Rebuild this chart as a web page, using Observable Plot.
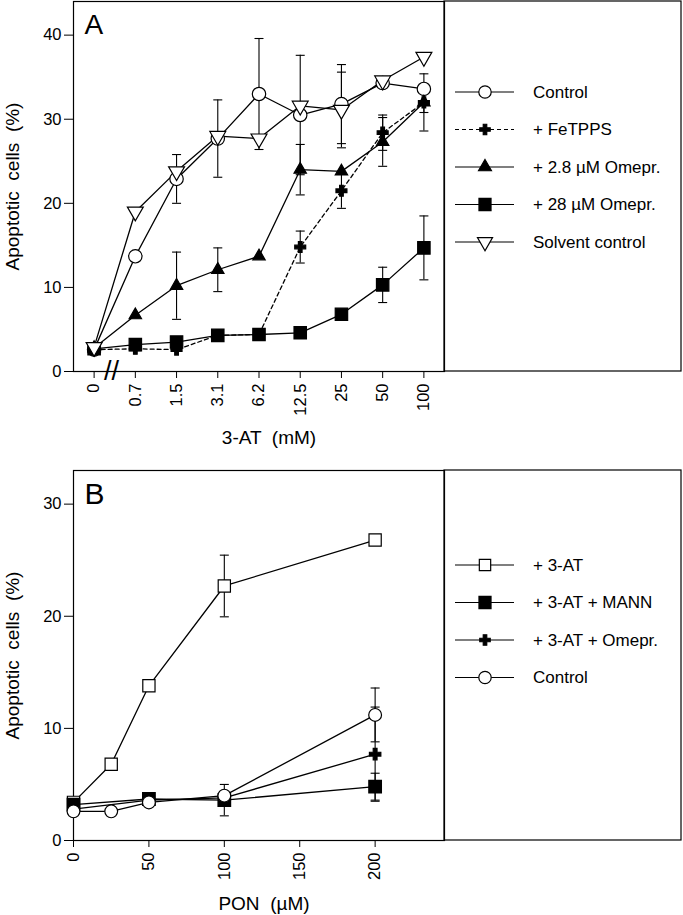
<!DOCTYPE html>
<html><head><meta charset="utf-8">
<script src="https://cdn.jsdelivr.net/npm/d3@7"></script>
<script src="https://cdn.jsdelivr.net/npm/@observablehq/plot@0.6"></script>
<style>
body{margin:0;background:#fff;}
#chart{position:relative;width:683px;height:915px;font-family:"Liberation Sans",Arial,sans-serif;}
#chart svg{display:block;}
</style></head><body><div id="chart"></div>
<script>
// ---------- Panel A data ----------
const conc3AT = ["0","0.7","1.5","3.1","6.2","12.5","25","50","100"];
const aControl    = [2.6, 13.7, 22.9, 27.7, 33.0, 30.5, 31.8, 34.3, 33.6];
const aControlErr = [0, 0, 2.9, 4.6, 6.6, 7.1, 4.7, 0, 0];
const aFeTPPS     = [2.6, 2.7, 2.6, 4.3, 4.4, 14.8, 21.5, 28.4, 32.0];
const aFeTPPSErr  = [0, 0, 0, 0, 0, 1.9, 2.1, 2.1, 3.4];
const aOme28      = [2.8, 6.7, 10.2, 12.1, 13.7, 24.0, 23.8, 27.3, 32.0];
const aOme28Err   = [0, 0, 4.0, 2.6, 0, 3.0, 0, 2.9, 1.2];
const aOme280     = [2.7, 3.2, 3.5, 4.3, 4.4, 4.6, 6.8, 10.3, 14.7];
const aOme280Err  = [0, 0, 0, 0, 0, 0, 0, 2.1, 3.8];
const aSolvent    = [2.9, 19.0, 23.8, 28.0, 27.7, 31.6, 31.1, 34.6, 37.4];
const aSolventErr = [0, 0, 0, 0, 0, 0, 4.5, 0, 0];
const aLabels = ["Control", "+ FeTPPS", "+ 2.8 \u00b5M Omepr.", "+ 28 \u00b5M Omepr.", "Solvent control"];

// ---------- Panel B data ----------
const ponX = [0, 25, 50, 100, 200];
const b3AT       = [3.4, 6.8, 13.8, 22.7, 26.8];
const b3ATErr    = [0, 0, 0, 2.75, 0];
const bMANN      = [3.2, null, 3.7, 3.6, 4.8];
const bMANNErr   = [0, null, 0, 1.4, 1.2];
const bOmepr     = [2.8, null, 3.6, 3.8, 7.7];
const bOmeprErr  = [0, null, 0, 0, 4.2];
const bControl   = [2.6, 2.6, 3.4, 4.0, 11.2];
const bControlErr= [0, 0, 0, 0, 2.4];
const bLabels = ["+ 3-AT", "+ 3-AT + MANN", "+ 3-AT + Omepr.", "Control"];

const FONT = "'Liberation Sans', Arial, sans-serif";
const capSymbol = {draw(ctx, size){ const w = Math.sqrt(size / Math.PI); ctx.moveTo(-w, 0); ctx.lineTo(w, 0); }};
const symMap = {circle: d3.symbolCircle, square: d3.symbolSquare, cross: d3.symbolCross, triangle: d3.symbolTriangle};

function rowsOf(xs, ys, es) {
  return xs.map((x, i) => ({x, y: ys[i], e: es[i]})).filter(d => d.y != null);
}

function seriesMarks(series) {
  const lines = [], bars = [], dots = [];
  for (const s of series) {
    lines.push(Plot.line(s.rows, {x: "x", y: "y", stroke: "black", strokeWidth: 1.3, strokeDasharray: s.dash || null}));
    const eb = s.rows.filter(d => d.e > 0);
    bars.push(Plot.ruleX(eb, {x: "x", y1: d => d.y - d.e, y2: d => d.y + d.e, stroke: "black", strokeWidth: 1.1}));
    bars.push(Plot.dot(eb, {x: "x", y: d => d.y + d.e, symbol: capSymbol, r: 4.5, fill: "none", stroke: "black", strokeWidth: 1.1}));
    bars.push(Plot.dot(eb, {x: "x", y: d => d.y - d.e, symbol: capSymbol, r: 4.5, fill: "none", stroke: "black", strokeWidth: 1.1}));
    dots.push(Plot.dot(s.rows, {x: "x", y: "y", symbol: s.symbol, r: s.r, rotate: s.rot || 0,
      fill: s.fill, stroke: "black", strokeWidth: 1.2}));
  }
  return [...lines, ...bars, ...dots];
}

function drawLegend(svg, series, labels, opts) {
  const g = d3.select(svg).append("g");
  g.append("rect").attr("x", opts.x0).attr("y", opts.top).attr("width", opts.x1 - opts.x0).attr("height", opts.bottom - opts.top)
    .attr("fill", "none").attr("stroke", "black").attr("stroke-width", 1.2);
  series.forEach((s, i) => {
    const y = opts.row0 + i * opts.step;
    g.append("line").attr("x1", 455).attr("x2", 514).attr("y1", y).attr("y2", y)
      .attr("stroke", "black").attr("stroke-width", 1.2).attr("stroke-dasharray", s.dash || null);
    g.append("path").attr("d", d3.symbol(symMap[s.symbol], Math.PI * s.lr * s.lr)())
      .attr("transform", `translate(485,${y}) rotate(${s.rot || 0})`)
      .attr("fill", s.fill).attr("stroke", "black").attr("stroke-width", 1.2);
    g.append("text").attr("x", 533).attr("y", y).attr("dy", "0.35em").attr("text-anchor", "start")
      .attr("font-size", 17).attr("font-family", FONT).attr("fill", "black").text(labels[i]);
  });
}

// ---------- Panel A ----------
const idx = d3.range(conc3AT.length);
const seriesA = [
  {rows: rowsOf(idx, aControl, aControlErr), symbol: "circle", r: 6.7, lr: 6.2, fill: "white"},
  {rows: rowsOf(idx, aFeTPPS, aFeTPPSErr), symbol: "cross", r: 4.6, lr: 4.4, fill: "black", dash: "4,3"},
  {rows: rowsOf(idx, aOme28, aOme28Err), symbol: "triangle", r: 4.6, lr: 4.8, fill: "black"},
  {rows: rowsOf(idx, aOme280, aOme280Err), symbol: "square", r: 7.0, lr: 6.8, fill: "black"},
  {rows: rowsOf(idx, aSolvent, aSolventErr), symbol: "triangle", r: 5.9, lr: 5.6, fill: "white", rot: 180}
];

const plotA = Plot.plot({
  width: 683, height: 460,
  marginLeft: 73, marginRight: 239, marginTop: 1, marginBottom: 89,
  style: {fontFamily: FONT, fontSize: "16.5px", color: "black", background: "white", overflow: "visible"},
  x: {domain: [-0.5, 8.5]},
  y: {domain: [0, 44]},
  marks: [
    Plot.frame({stroke: "black", strokeWidth: 1.2}),
    Plot.axisY({ticks: [0, 10, 20, 30, 40], tickSize: 9, tickPadding: 3, label: null}),
    Plot.axisX({ticks: idx, tickFormat: i => conc3AT[i], tickRotate: -90, tickSize: 7, tickPadding: 5, label: null}),
    ...seriesMarks(seriesA),
    Plot.text(["//"], {x: 0.42, y: 0, fontSize: 27, fill: "black"}),
    Plot.text(["3-AT  (mM)"], {frameAnchor: "bottom", textAnchor: "middle", dx: 10, dy: 66, fontSize: 19, lineAnchor: "middle", fill: "black"}),
    Plot.text(["Apoptotic  cells  (%)"], {frameAnchor: "left", textAnchor: "middle", dx: -61, rotate: -90, fontSize: 19, fill: "black"}),
    Plot.text(["A"], {frameAnchor: "top-left", textAnchor: "start", lineAnchor: "top", dx: 11, dy: 13, fontSize: 28, fill: "black"})
  ]
});
drawLegend(plotA, seriesA, aLabels, {x0: 444, x1: 681, top: 1, bottom: 371, row0: 92, step: 37.5});

// ---------- Panel B ----------
const seriesB = [
  {rows: rowsOf(ponX, b3AT, b3ATErr), symbol: "square", r: 6.9, lr: 6.4, fill: "white"},
  {rows: rowsOf(ponX, bMANN, bMANNErr), symbol: "square", r: 7.1, lr: 6.8, fill: "black"},
  {rows: rowsOf(ponX, bOmepr, bOmeprErr), symbol: "cross", r: 4.8, lr: 4.4, fill: "black"},
  {rows: rowsOf(ponX, bControl, bControlErr), symbol: "circle", r: 6.4, lr: 6.2, fill: "white"}
];

const plotB = Plot.plot({
  width: 683, height: 455,
  marginLeft: 73, marginRight: 239, marginTop: 10, marginBottom: 75,
  style: {fontFamily: FONT, fontSize: "16.5px", color: "black", background: "white", overflow: "visible"},
  x: {domain: [0, 246]},
  y: {domain: [0, 33]},
  marks: [
    Plot.frame({stroke: "black", strokeWidth: 1.2}),
    Plot.axisY({ticks: [0, 10, 20, 30], tickSize: 9, tickPadding: 3, label: null}),
    Plot.axisX({ticks: [0, 50, 100, 150, 200], tickRotate: -90, tickSize: 7, tickPadding: 5, label: null}),
    ...seriesMarks(seriesB),
    Plot.text(["PON  (\u00b5M)"], {frameAnchor: "bottom", textAnchor: "middle", dx: 5, dy: 63, fontSize: 19, lineAnchor: "middle", fill: "black"}),
    Plot.text(["Apoptotic  cells  (%)"], {frameAnchor: "left", textAnchor: "middle", dx: -61, rotate: -90, fontSize: 19, fill: "black"}),
    Plot.text(["B"], {frameAnchor: "top-left", textAnchor: "start", lineAnchor: "top", dx: 11, dy: 12, fontSize: 30, fill: "black"})
  ]
});
drawLegend(plotB, seriesB, bLabels, {x0: 444, x1: 681, top: 10, bottom: 380, row0: 105, step: 37.5});

const chart = document.getElementById("chart");
chart.appendChild(plotA);
chart.appendChild(plotB);
</script></body></html>
